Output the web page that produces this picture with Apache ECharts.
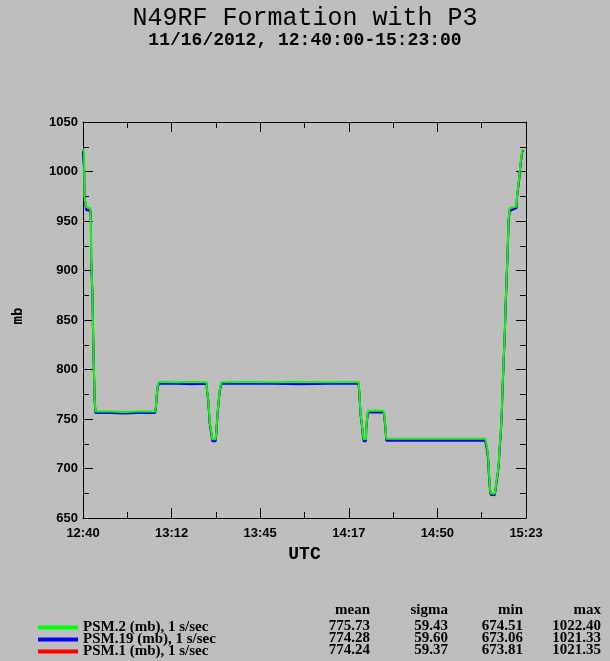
<!DOCTYPE html>
<html><head><meta charset="utf-8">
<script src="https://cdn.jsdelivr.net/npm/echarts@6/dist/echarts.min.js"></script>
<style>html,body{margin:0;padding:0;background:#bebebe;}#c{width:610px;height:661px;}</style>
</head><body><div id="c"></div>
<script>
// minutes after 12:40:00 UTC, pressure (mb)
const psm2 = [[0,1022.4],[0.4,1020],[0.5,975],[1.0,975],[1.2,964],[2.7,963],[2.9,950],[3.0,912],[3.4,912],[3.5,875],[3.7,840],[4.0,801],[4.3,769],[4.6,757.5],
[10,757.5],[15,757],[20,757.5],[26.5,757.5],[26.8,762],[27.1,773],[27.5,784],[27.9,787.5],[35,787],[40,787.5],[45.5,787],
[45.6,780],[46.1,769],[46.6,748],[47.2,737.5],[47.6,729.5],[48.8,729.5],[49.05,737.5],[49.6,759],[50.3,779.5],[50.9,787],
[60,787.5],[70,787],[80,787.5],[90,787],[101.4,787.5],[101.7,776.5],[102.1,756],[102.6,745],[103.0,734],[103.3,729.5],[104.1,729.5],
[104.2,741],[104.6,752.6],[104.9,758.4],[110.7,758.4],[110.9,752.6],[111.3,741],[111.6,730],[120,730],[130,730],[140,730],[148.0,730],
[148.1,729],[148.4,725.7],[148.7,720.7],[149.1,710.6],[149.3,698.8],[149.7,682],[150.0,675],[151.5,674.5],[151.9,682],[152.2,688.7],
[152.6,695.4],[153.0,707.2],[153.3,722.3],[153.7,735.8],[154.1,757.7],[154.4,783.6],[154.8,811.6],[155.2,837.5],[155.5,865.5],
[155.9,894.7],[156.3,924.4],[156.6,951.3],[157.0,963.1],[157.4,964],[159.5,964.5],[159.7,975],[160.1,984.3],[160.5,993.4],
[160.8,1003.5],[161.2,1012.6],[161.6,1021.3],[162.2,1022.4]];
const psm19 = [[0,1021.3],[0.4,1001],[0.5,975],[1.0,974],[1.2,961],[2.7,960],[2.9,955],[3.0,910],[3.4,910],[3.5,873],[3.7,838],[4.0,800],[4.3,768],[4.6,756],
[10,756],[15,755.5],[20,756],[26.5,756],[26.8,761],[27.1,772],[27.5,783],[27.9,785.5],[35,785.5],[40,785],[45.5,785.5],
[45.6,779],[46.1,768],[46.6,746],[47.2,735],[47.6,727.5],[48.8,727.5],[49.05,736],[49.6,758],[50.3,778],[50.9,785.5],
[60,785.5],[70,785.5],[80,785],[90,785.5],[101.4,785.5],[101.7,775],[102.1,755],[102.6,744],[103.0,733],[103.3,727.5],[104.1,727.5],
[104.2,740],[104.6,751],[104.9,756.7],[110.7,756.5],[110.9,751],[111.3,740],[111.6,728],[120,728],[130,728],[140,728],[148.0,728],
[148.1,727],[148.4,722],[148.7,718],[149.1,708],[149.3,696],[149.7,680],[150.0,673.5],[151.5,673.1],[151.9,680],[152.2,687],
[152.6,694],[153.0,705],[153.3,720],[153.7,734],[154.1,756],[154.4,782],[154.8,810],[155.2,836],[155.5,864],
[155.9,893],[156.3,923.5],[156.6,950],[157.0,960],[157.4,962],[159.5,963],[159.7,974],[160.1,983],[160.5,992],
[160.8,1002],[161.2,1011],[161.6,1019.5],[162.2,1021.3]];
const psm1 = [[0,1021.35],[0.4,1005],[0.5,975],[1.0,974.5],[1.2,962],[2.7,961.5],[2.9,952],[3.0,911],[3.4,911],[3.5,874],[3.7,839],[4.0,800.5],[4.3,768.5],[4.6,756.8],
[10,756.8],[15,756.5],[20,756.8],[26.5,756.8],[26.8,761.5],[27.1,772.5],[27.5,783.5],[27.9,786.3],[35,786.3],[40,786],[45.5,786.3],
[45.6,779.5],[46.1,768.5],[46.6,747],[47.2,736],[47.6,728.3],[48.8,728.3],[49.05,736.8],[49.6,758.5],[50.3,778.8],[50.9,786.3],
[60,786.3],[70,786.3],[80,786],[90,786.3],[101.4,786.3],[101.7,775.8],[102.1,755.5],[102.6,744.5],[103.0,733.5],[103.3,728.3],[104.1,728.3],
[104.2,740.5],[104.6,751.8],[104.9,757.5],[110.7,757.4],[110.9,751.8],[111.3,740.5],[111.6,728.8],[120,728.8],[130,728.8],[140,728.8],[148.0,728.8],
[148.1,728],[148.4,724],[148.7,719.3],[149.1,709.3],[149.3,697.4],[149.7,681],[150.0,674.2],[151.5,673.8],[151.9,681],[152.2,687.8],
[152.6,694.7],[153.0,706],[153.3,721],[153.7,735],[154.1,756.8],[154.4,782.8],[154.8,810.8],[155.2,836.8],[155.5,864.8],
[155.9,893.8],[156.3,924],[156.6,950.6],[157.0,961.5],[157.4,963],[159.5,963.8],[159.7,974.5],[160.1,983.6],[160.5,992.7],
[160.8,1002.7],[161.2,1011.8],[161.6,1020.4],[162.2,1021.35]];

const xTickLabels = ['12:40','13:12','13:45','14:17','14:50','15:23'];
const seriesNames = ['PSM.2 (mb), 1 s/sec','PSM.19 (mb), 1 s/sec','PSM.1 (mb), 1 s/sec'];
const seriesColors = ['#00ff00','#0000ff','#ff0000'];
const statHeaders = ['mean','sigma','min','max'];
const statMean = ['775.73','774.28','774.24'];
const statSigma = ['59.43','59.60','59.37'];
const statMin = ['674.51','673.06','673.81'];
const statMax = ['1022.40','1021.33','1021.35'];

const X_MAX = 163, X_INT = 32.6;
const chart = echarts.init(document.getElementById('c'), null, {renderer:'canvas'});
const statFont = 'bold 15px "Liberation Serif"';
const colRight = [370, 448, 523, 601];
const rowY = [626, 638, 650];
const graphics = [];
statHeaders.forEach((h,i)=>graphics.push({type:'text',x:colRight[i],y:610,style:{text:h,font:statFont,fill:'#000',textAlign:'right',textVerticalAlign:'middle'}}));
[statMean,statSigma,statMin,statMax].forEach((col,ci)=>col.forEach((v,ri)=>graphics.push({type:'text',x:colRight[ci],y:rowY[ri],style:{text:v,font:statFont,fill:'#000',textAlign:'right',textVerticalAlign:'middle'}})));
graphics.push({type:'text',x:18,y:316,rotation:Math.PI/2,style:{text:'mb',font:'bold 14px "DejaVu Sans Mono"',fill:'#000',textAlign:'center',textVerticalAlign:'middle'}});

// axis carrying only the line (and optionally labels)
function lineAxis(extra){
  return Object.assign({
    axisLine:{show:true,onZero:false,lineStyle:{color:'#000',width:1}},
    axisTick:{show:false},
    axisLabel:{show:false},
    splitLine:{show:false}
  }, extra);
}
// axis carrying only ticks, shifted into the plot so ticks point inward
function tickAxis(extra, len){
  return Object.assign({
    offset:-len,
    axisLine:{show:false,onZero:false},
    axisTick:{show:true,inside:false,length:len,lineStyle:{color:'#000',width:1}},
    axisLabel:{show:false},
    splitLine:{show:false}
  }, extra);
}
const labelFont = {color:'#000',fontFamily:'Liberation Sans',fontWeight:'bold',fontSize:13};
const xBase = {type:'value',min:0,max:X_MAX};
const yBase = {type:'value',min:650,max:1050};
const option = {
  backgroundColor:'#bebebe',
  animation:false,
  title:{left:'center',top:1,text:'N49RF Formation with P3',subtext:'11/16/2012, 12:40:00-15:23:00',itemGap:0,
    textStyle:{fontFamily:'Liberation Mono',fontSize:25,fontWeight:'normal',color:'#000'},
    subtextStyle:{fontFamily:'Liberation Mono',fontSize:18,fontWeight:'bold',color:'#000'}},
  grid:{left:83,top:122,right:84,bottom:143,containLabel:false},
  legend:seriesNames.map((n,i)=>({orient:'horizontal',left:38,top:rowY[i]-6,padding:0,itemWidth:40,itemHeight:4,icon:'rect',
    data:[n],
    textStyle:{fontFamily:'Liberation Serif',fontWeight:'bold',fontSize:15,color:'#000',lineHeight:12}})),
  xAxis:[
    lineAxis(Object.assign({},xBase,{interval:X_INT,position:'bottom',
      name:'UTC',nameLocation:'middle',nameGap:27,
      nameTextStyle:{fontFamily:'Liberation Mono',fontWeight:'bold',fontSize:18,color:'#000'},
      axisLabel:Object.assign({show:true,margin:9,formatter:(v)=>xTickLabels[Math.round(v/X_INT)]},labelFont)})),
    lineAxis(Object.assign({},xBase,{interval:X_INT,position:'top'})),
    tickAxis(Object.assign({},xBase,{interval:X_INT,position:'bottom'}),10),
    tickAxis(Object.assign({},xBase,{interval:X_INT,position:'top'}),10),
    tickAxis(Object.assign({},xBase,{interval:X_INT/2,position:'bottom'}),6),
    tickAxis(Object.assign({},xBase,{interval:X_INT/2,position:'top'}),6)
  ],
  yAxis:[
    lineAxis(Object.assign({},yBase,{interval:50,position:'left',
      axisLabel:Object.assign({show:true,margin:5,formatter:(v)=>String(v)},labelFont)})),
    lineAxis(Object.assign({},yBase,{interval:50,position:'right'})),
    tickAxis(Object.assign({},yBase,{interval:50,position:'left'}),10),
    tickAxis(Object.assign({},yBase,{interval:50,position:'right'}),10),
    tickAxis(Object.assign({},yBase,{interval:25,position:'left'}),6),
    tickAxis(Object.assign({},yBase,{interval:25,position:'right'}),6)
  ],
  series:[
    {name:seriesNames[2],type:'line',data:psm1,showSymbol:false,symbol:'none',color:seriesColors[2],lineStyle:{width:2,color:seriesColors[2]},z:2},
    {name:seriesNames[1],type:'line',data:psm19,showSymbol:false,symbol:'none',color:seriesColors[1],lineStyle:{width:2,color:seriesColors[1]},z:3},
    {name:seriesNames[0],type:'line',data:psm2,showSymbol:false,symbol:'none',color:seriesColors[0],lineStyle:{width:2,color:seriesColors[0]},z:4}
  ],
  graphic:graphics
};
chart.setOption(option);
</script></body></html>
